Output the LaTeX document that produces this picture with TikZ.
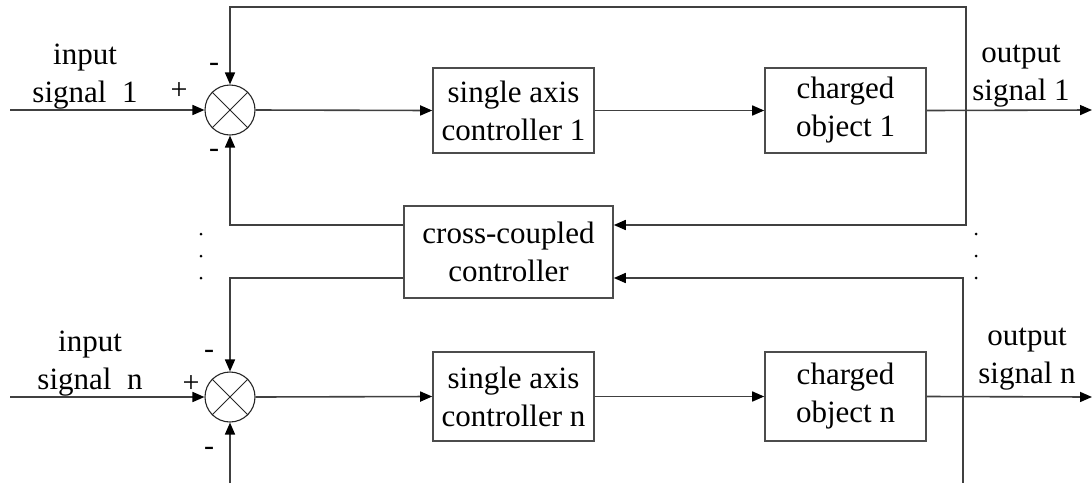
\documentclass[tikz,border=0pt]{standalone}
\usepackage{fontspec}
\setmainfont{Liberation Serif}
\usetikzlibrary{arrows.meta}
\begin{document}
\begin{tikzpicture}[x=1pt,y=-1pt,
  every node/.style={font=\fontsize{31}{38}\selectfont},
  wire/.style={draw=black!75,line width=1.6pt},
  arr/.style={wire,-{Triangle[length=12pt,width=10pt,fill=black,color=black]}},
  blk/.style={draw=black!70,line width=1.6pt,fill=white,align=center,inner sep=0pt},
  summer/.style={circle,draw=black!85,line width=1.1pt,minimum size=50pt,inner sep=0pt},
  lbl/.style={align=center,inner sep=0pt},
  sgn/.style={inner sep=0pt,font=\fontsize{30}{32}\selectfont},
  dot/.style={circle,fill=black,inner sep=0pt,minimum size=3pt}]
\useasboundingbox (0,0) rectangle (1092,483);

% blocks
\node[summer] (s1) at (230,110) {};
\node[summer] (sn) at (230,397) {};
\draw[black!85,line width=1pt] (s1.45)--(s1.225) (s1.135)--(s1.315);
\draw[black!85,line width=1pt] (sn.45)--(sn.225) (sn.135)--(sn.315);
\node[blk,minimum width=161pt,minimum height=85pt] (c1) at (513.5,110.5) {single axis\\controller 1};
\node[blk,minimum width=161pt,minimum height=85pt] (o1) at (845.5,110.5) {charged\\object 1};
\node[blk,minimum width=161pt,minimum height=89pt] (cn) at (513.5,396.5) {single axis\\controller n};
\node[blk,minimum width=161pt,minimum height=89pt] (on) at (845.5,396.5) {charged\\object n};
\node[blk,minimum width=209pt,minimum height=92pt] (cc) at (508.5,252) {cross-coupled\\controller};

% coordinates
\coordinate (in1) at (10,110);
\coordinate (inn) at (10,397);
\coordinate (out1) at (1092,110);
\coordinate (outn) at (1092,397);
\coordinate (b1) at (966,110);
\coordinate (bn) at (963,397);
\coordinate (top) at (966,7);
\coordinate (bot) at (963,483);
\coordinate (sbot) at (230,483);
\coordinate (ccr1) at ([yshift=27pt]cc.east);
\coordinate (ccrn) at ([yshift=-26pt]cc.east);
\coordinate (ccl1) at ([yshift=27pt]cc.west);
\coordinate (ccln) at ([yshift=-26pt]cc.west);

% forward paths
\draw[arr] (in1) -- (s1.west);
\draw[arr] (s1.east) -- (c1.west);
\draw[arr] (c1.east) -- (o1.west);
\draw[arr] (o1.east) -- (out1);
\draw[arr] (inn) -- (sn.west);
\draw[arr] (sn.east) -- (cn.west);
\draw[arr] (cn.east) -- (on.west);
\draw[arr] (on.east) -- (outn);

% feedback
\draw[arr] (b1) -- (top) -| (s1.north);
\draw[arr] (b1) |- (ccr1);
\draw[arr] (ccl1) -| (s1.south);
\draw[arr] (bn) |- (ccrn);
\draw[wire] (bn) -- (bot);
\draw[arr] (ccln) -| (sn.north);
\draw[arr] (sbot) -- (sn.south);

% labels
\node[lbl] (li1) at (85,77) {input\\signal\ \ 1};
\node[lbl] (lin) at (90,364) {input\\signal\ \ n};
\node[lbl] (lo1) at (1021,76) {output\\signal 1};
\node[lbl] (lon) at (1027,359) {output\\signal n};
\node[sgn] (p1) at (179,91) {+};
\node[sgn] (pn) at (191,384) {+};
\node[sgn] (m1a) at (214,67) {-};
\node[sgn] (m1b) at (214,153) {-};
\node[sgn] (mna) at (209,354) {-};
\node[sgn] (mnb) at (209,451) {-};

% dots
\node[dot] (dl1) at (201,234) {};
\node[dot] (dl2) at (201,256) {};
\node[dot] (dl3) at (201,278) {};
\node[dot] (dr1) at (976,234) {};
\node[dot] (dr2) at (976,256) {};
\node[dot] (dr3) at (976,278) {};
\end{tikzpicture}
\end{document}
